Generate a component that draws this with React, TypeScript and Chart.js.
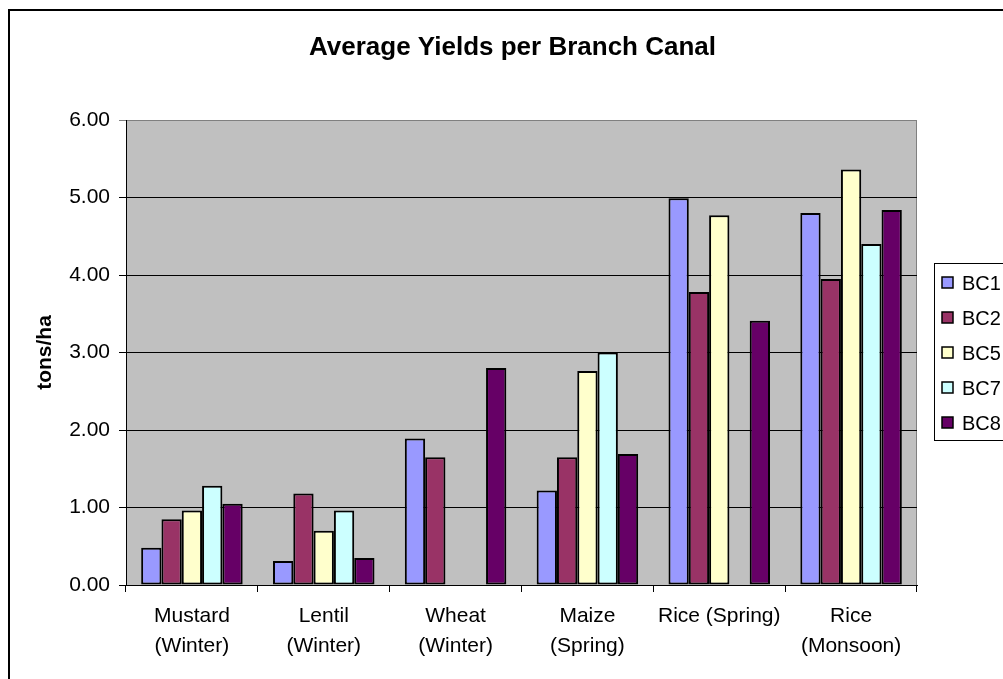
import React, { useEffect, useRef } from "react";
import { Chart, registerables } from "chart.js";

Chart.register(...registerables);

const categories: (string | string[])[] = [
  ["Mustard", "(Winter)"],
  ["Lentil", "(Winter)"],
  ["Wheat", "(Winter)"],
  ["Maize", "(Spring)"],
  "Rice (Spring)",
  ["Rice", "(Monsoon)"],
];

const seriesNames = ["BC1", "BC2", "BC5", "BC7", "BC8"];
const bc1 = [0.48, 0.31, 1.89, 1.22, 4.99, 4.8];
const bc2 = [0.85, 1.18, 1.65, 1.65, 3.78, 3.95];
const bc5 = [0.96, 0.7, null, 2.76, 4.77, 5.36];
const bc7 = [1.28, 0.96, null, 3.0, null, 4.4];
const bc8 = [1.05, 0.35, 2.8, 1.69, 3.41, 4.84];
const seriesColors = ["#9999FF", "#993366", "#FFFFCC", "#CCFFFF", "#660066"];
const yTicks = [0, 1, 2, 3, 4, 5, 6];

const FONT = "'Liberation Sans', Arial, sans-serif";

const decorPlugin = {
  id: "decor",
  beforeDraw(chart: any) {
    const { ctx, chartArea } = chart;
    ctx.save();
    ctx.strokeStyle = "#000";
    ctx.lineWidth = 2;
    ctx.beginPath();
    ctx.moveTo(9, chart.height + 5);
    ctx.lineTo(9, 10);
    ctx.lineTo(chart.width + 5, 10);
    ctx.stroke();
    ctx.fillStyle = "#C0C0C0";
    ctx.fillRect(chartArea.left, chartArea.top, chartArea.right - chartArea.left, chartArea.bottom - chartArea.top);
    ctx.strokeStyle = "#808080";
    ctx.lineWidth = 1;
    ctx.strokeRect(chartArea.left + 0.5, chartArea.top + 0.5, chartArea.right - chartArea.left - 1, chartArea.bottom - chartArea.top);
    ctx.restore();
  },
  afterDraw(chart: any) {
    const { ctx } = chart;
    ctx.save();
    const bx = 934.5, by = 263.5, bh = 177;
    ctx.strokeStyle = "#000";
    ctx.lineWidth = 1;
    ctx.fillStyle = "#fff";
    ctx.fillRect(bx, by, 200, bh);
    ctx.strokeRect(bx, by, 200, bh);
    ctx.font = `20px ${FONT}`;
    ctx.textBaseline = "middle";
    ctx.textAlign = "left";
    chart.data.datasets.forEach((ds: any, i: number) => {
      const cy = 283 + i * 35;
      ctx.fillStyle = ds.backgroundColor;
      ctx.fillRect(942, cy - 6, 11, 11);
      ctx.lineWidth = 1.5;
      ctx.strokeStyle = "#000";
      ctx.strokeRect(942, cy - 6, 11, 11);
      ctx.fillStyle = "#000";
      ctx.fillText(ds.label, 962, cy + 1);
    });
    ctx.restore();
  },
};

export default function App() {
  const ref = useRef<HTMLCanvasElement>(null);
  useEffect(() => {
    if (!ref.current) return;
    const allData = [bc1, bc2, bc5, bc7, bc8];
    const chart = new Chart(ref.current, {
      type: "bar",
      data: {
        labels: categories,
        datasets: seriesNames.map((name, i) => ({
          label: name,
          data: allData[i],
          backgroundColor: seriesColors[i],
          borderColor: "#000",
          borderWidth: 2,
          borderSkipped: false,
          categoryPercentage: 0.77,
          barPercentage: 1.0,
        })),
      },
      options: {
        responsive: false,
        animation: false,
        layout: { padding: { left: 22, right: 0, top: 0, bottom: 0 } },
        plugins: {
          legend: { display: false },
          tooltip: { enabled: false },
          title: {
            display: true,
            text: "Average Yields per Branch Canal",
            color: "#000",
            font: { family: FONT, size: 26, weight: "bold", lineHeight: 1.2 },
            padding: { top: 32, bottom: 56.8 },
          },
        },
        scales: {
          x: {
            offset: true,
            grid: {
              display: true,
              drawOnChartArea: false,
              offset: true,
              tickLength: 7,
              tickColor: "#000",
            },
            border: { display: true, color: "#000", width: 1 },
            ticks: {
              color: "#000",
              font: { family: FONT, size: 21, lineHeight: 1.4 },
              padding: 10,
              maxRotation: 0,
              autoSkip: false,
            },
            afterFit: (s: any) => {
              s.height = 94;
            },
          },
          y: {
            min: 0,
            max: 6,
            afterBuildTicks: (s: any) => {
              s.ticks = yTicks.map((v) => ({ value: v }));
            },
            grid: {
              color: (c: any) => (c.tick && c.tick.value === 6 ? "#808080" : "#000"),
              tickColor: (c: any) => (c.tick && c.tick.value === 6 ? "#808080" : "#000"),
              tickLength: 7,
              lineWidth: 1,
            },
            border: { display: true, color: "#000", width: 1 },
            ticks: {
              color: "#000",
              font: { family: FONT, size: 21 },
              padding: 9,
              callback: (v: any) => Number(v).toFixed(2),
            },
            title: {
              display: true,
              text: "tons/ha",
              color: "#000",
              font: { family: FONT, size: 21, weight: "bold", lineHeight: 1.2 },
              padding: { top: 11, bottom: 0 },
            },
            afterFit: (s: any) => {
              s.width = 104;
            },
          },
          yR: {
            type: "linear",
            position: "right",
            display: true,
            grid: { display: false },
            ticks: { display: false },
            border: { display: false },
            afterFit: (s: any) => {
              s.width = 86;
            },
          },
        },
      } as any,
      plugins: [decorPlugin],
    });
    return () => chart.destroy();
  }, []);
  return (
    <div style={{ position: "fixed", left: 0, top: 0, width: 1003, height: 679, overflow: "hidden" }}>
      <canvas ref={ref} width={1003} height={679} />
    </div>
  );
}
